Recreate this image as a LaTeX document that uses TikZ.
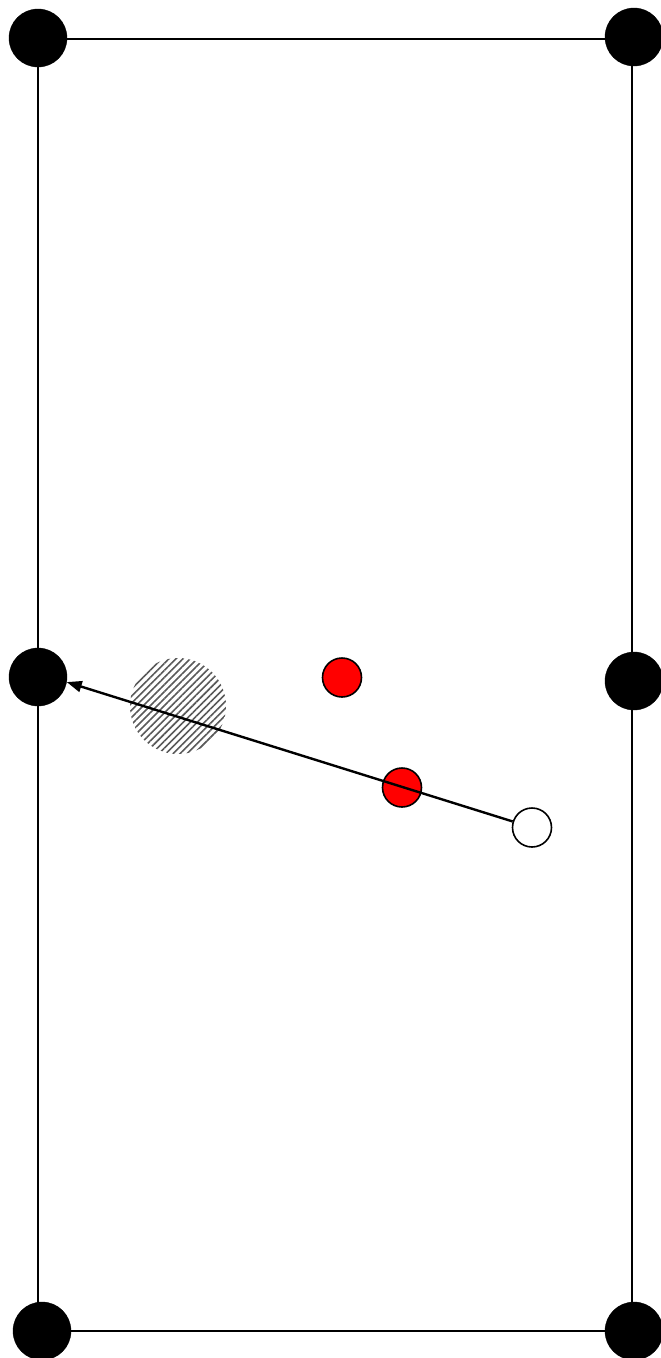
\documentclass[tikz,border=0pt]{standalone}
\usetikzlibrary{arrows.meta,patterns.meta}
\begin{document}
\begin{tikzpicture}[x=1pt,y=-1pt,
  corner/.style={circle,fill=black,draw=black,inner sep=0pt,minimum size=58pt},
  redball/.style={circle,fill=red,draw=black,line width=1.6pt,inner sep=0pt,minimum size=39pt},
  whiteball/.style={circle,fill=white,draw=black,line width=1.6pt,inner sep=0pt,minimum size=39pt},
  hatch/.style={circle,inner sep=0pt,minimum size=96pt,
    pattern={Lines[angle=45,distance=5pt,line width=1.6pt]},pattern color=black!65},
  frame/.style={line width=1.8pt},
  arrowline/.style={line width=2.4pt,-{Triangle[length=15pt,width=11pt]}}]
\useasboundingbox (0,0) rectangle (661,1358);
\node[hatch] (H) at (178,706) {};
\coordinate (FTL) at (38,39);
\coordinate (FBR) at (632,1331);
\draw[frame] (FTL) rectangle (FBR);
\node[corner] (TL) at (38,38) {};
\node[corner] (TR) at (634,37) {};
\node[corner] (ML) at (38,677) {};
\node[corner] (MR) at (634,681) {};
\node[corner] (BL) at (42,1331) {};
\node[corner] (BR) at (634,1331) {};
\node[redball] (R1) at (342,677.5) {};
\node[redball] (R2) at (402,787.5) {};
\node[whiteball] (W) at (532,827.5) {};
\draw[arrowline] (W) -- (ML.-10);
\end{tikzpicture}
\end{document}
